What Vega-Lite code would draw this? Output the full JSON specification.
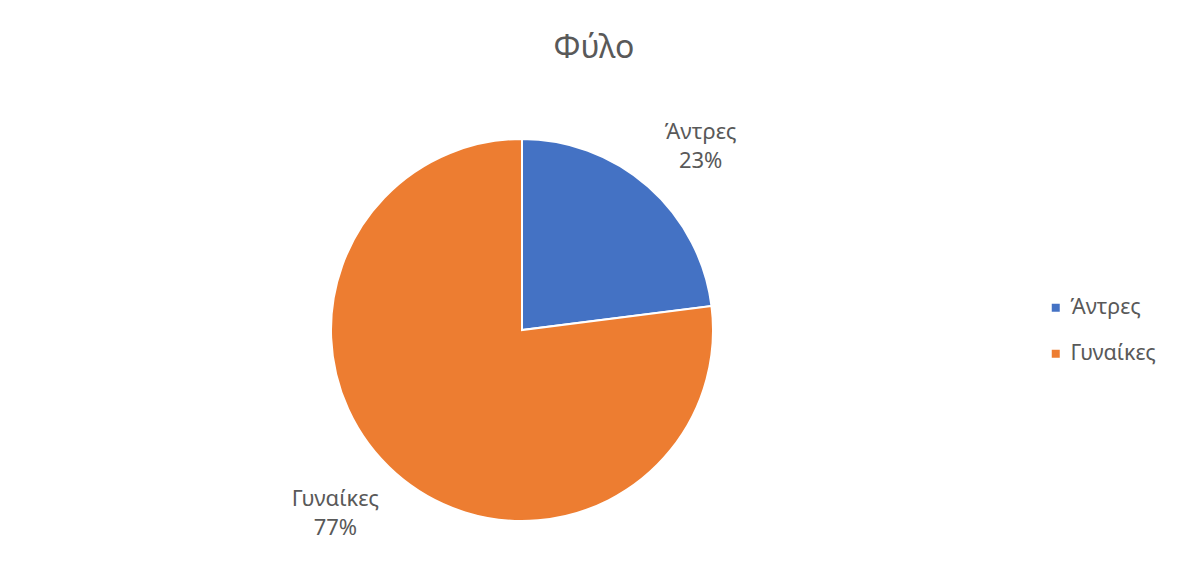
{
  "$schema": "https://vega.github.io/schema/vega-lite/v6.json",
  "width": 1044,
  "height": 502,
  "autosize": "none",
  "padding": {"left": 0, "top": 79, "right": 135, "bottom": 0},
  "background": "white",
  "config": {"view": {"stroke": null}, "font": "Noto Sans"},
  "title": {"text": "Φύλο", "fontSize": 32, "font": "Noto Sans", "fontWeight": "normal", "color": "#595959", "anchor": "middle", "dx": 72, "offset": 14},
  "data": {"values": [
    {"gender": "Άντρες", "value": 23},
    {"gender": "Γυναίκες", "value": 77}
  ]},
  "transform": [{"calculate": "[datum.gender, datum.value + '%']", "as": "label"}],
  "encoding": {"theta": {"field": "value", "type": "quantitative", "stack": true}},
  "layer": [
    {
      "mark": {"type": "arc", "outerRadius": 191, "stroke": "white", "strokeWidth": 2},
      "encoding": {
        "color": {
          "field": "gender", "type": "nominal",
          "scale": {"domain": ["Άντρες", "Γυναίκες"], "range": ["#4472C4", "#ED7D31"]},
          "legend": {"title": null, "orient": "none", "legendX": 1045, "legendY": 218, "symbolType": "square", "symbolSize": 64, "labelFontSize": 21.5, "labelColor": "#595959", "labelFont": "Noto Sans", "rowPadding": 23, "labelOffset": 4, "padding": 0, "symbolStrokeWidth": 0}
        }
      }
    },
    {
      "mark": {"type": "text", "radius": 259, "thetaOffset": 0.06, "fontSize": 22, "color": "#595959", "lineHeight": 29, "baseline": "middle", "dx": -4, "dy": -14.5},
      "encoding": {
        "detail": {"field": "gender", "type": "nominal"},
        "text": {"field": "label", "type": "nominal"}
      }
    }
  ]
}
